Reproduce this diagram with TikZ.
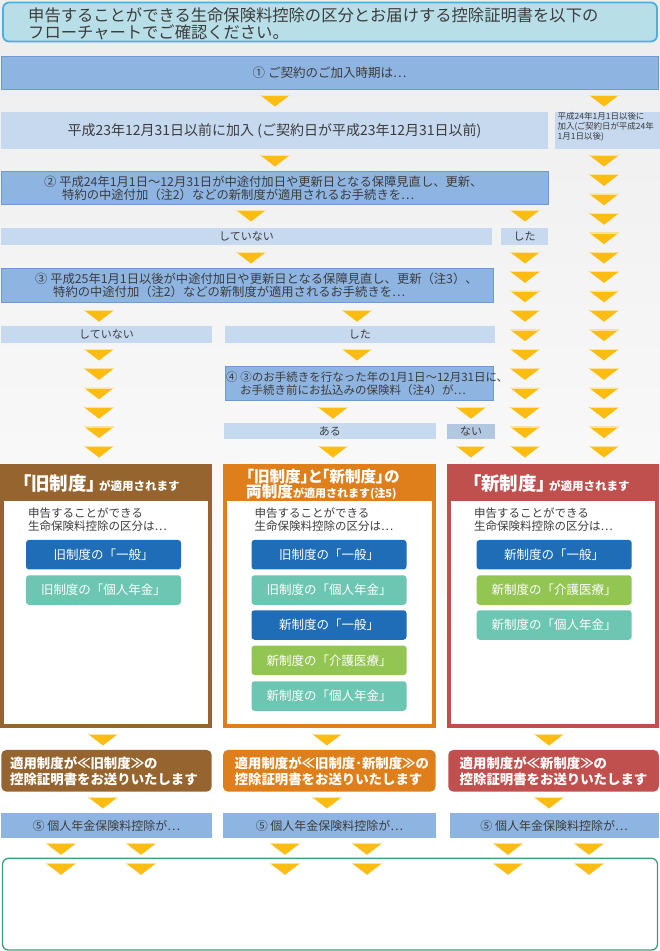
\documentclass[tikz,border=0pt]{standalone}
\usepackage{fontspec}
\setmainfont{Noto Sans CJK JP}
\newfontfamily\cjkp{Noto Sans CJK JP}[RawFeature=+palt]

\definecolor{txtgray}{HTML}{3C3C3C}
\definecolor{lightblue}{HTML}{C6D9EF}
\definecolor{midblue}{HTML}{8EB4E1}
\definecolor{midbluedraw}{HTML}{6F9AD0}
\definecolor{noblue}{HTML}{B3C7E1}
\definecolor{headfill}{HTML}{B8DEE8}
\definecolor{headdraw}{HTML}{4AB0E2}
\definecolor{arrowyel}{HTML}{FCBC12}
\definecolor{arrowlite}{HTML}{FFE29A}
\definecolor{oldbrown}{HTML}{96652F}
\definecolor{bothorange}{HTML}{DF7F1B}
\definecolor{newred}{HTML}{C0504E}
\definecolor{ippanblue}{HTML}{1E6DB6}
\definecolor{nenkinteal}{HTML}{6DC6B1}
\definecolor{kaigogreen}{HTML}{93C553}
\definecolor{endgreen}{HTML}{3E9D7F}

\begin{document}
\begin{tikzpicture}[x=1pt,y=-1pt,
  every node/.style={inner sep=0pt,text=txtgray},
  lbox/.style={fill=lightblue},
  mbox/.style={fill=midblue,draw=midbluedraw,line width=0.7pt},
  qtxt/.style={anchor=west,align=left,font=\fontsize{12.3}{13}\selectfont},
  stxt/.style={font=\fontsize{11}{12}\selectfont},
  colframe/.style={minimum width=#1,minimum height=264},
  inbox/.style={fill=white,minimum width=#1,minimum height=223},
  ttl/.style={anchor=west,text=white,font=\bfseries},
  dtxt/.style={anchor=west,align=left,font=\fontsize{11.5}{12.7}\selectfont},
  btn/.style={rounded corners=3pt,minimum width=155,minimum height=29.5,text=white,font=\fontsize{12.5}{13}\selectfont},
  rbox/.style={rounded corners=5pt,minimum width=#1,minimum height=41.7},
  rtxt/.style={anchor=west,align=left,text=white,font=\fontsize{13.4}{16}\selectfont\bfseries},
  fbox/.style={fill=midblue,minimum width=#1,minimum height=25,font=\fontsize{12}{13}\selectfont},
  darr/.pic={\fill[arrowyel] (-15,0) -- (15,0) -- (0,11.5) -- cycle;
    \draw[arrowlite,line width=0.8pt] (-14.5,0.4) -- (14.5,0.4);}]
  \useasboundingbox (0,0) rectangle (660,951);
  \shade[top color=gray!14,bottom color=white] (0,0) rectangle (660,740);
  \fill[white] (0,740) rectangle (660,951);

  % header
  \node[fill=headfill,draw=headdraw,line width=1.8pt,rounded corners=6pt,minimum width=654,minimum height=39] (head) at (330,22) {};
  \node[anchor=west,align=left,font=\fontsize{16.3}{17.3}\selectfont] (headt) at (28,23.5)
    {申告することができる生命保険料控除の区分とお届けする控除証明書を以下の\\フローチャートでご確認ください。};

  % (1) contract date
  \node[mbox,minimum width=657,minimum height=33,font=\fontsize{12.5}{13}\selectfont] (s1) at (329.5,72.5) {① ご契約のご加入時期は…};
  \node[lbox,minimum width=547,minimum height=37,font=\fontsize{14}{15}\selectfont] (before) at (274.5,130.5)
    {平成23年12月31日以前に加入 (ご契約日が平成23年12月31日以前)};
  \node[lbox,minimum width=105,minimum height=37] (after) at (607.5,130.5) {};
  \node[anchor=west,align=left,font=\cjkp\fontsize{8.5}{10}\selectfont] (aftert) at (557.5,126.5)
    {平成24年1月1日以後に\\加入(ご契約日が平成24年\\1月1日以後)};

  % (2)
  \node[mbox,minimum width=547,minimum height=33] (q2) at (274.5,187.5) {};
  \node[qtxt] (q2t) at (44,188)
    {② 平成24年1月1日～12月31日が中途付加日や更新日となる保障見直し、更新、\\\hspace*{18pt}特約の中途付加（注2）などの新制度が適用されるお手続きを…};
  \node[lbox,minimum width=491,minimum height=17,stxt] (no2) at (246.5,236.5) {していない};
  \node[lbox,minimum width=47,minimum height=17,stxt] (yes2) at (524.5,236.5) {した};

  % (3)
  \node[mbox,minimum width=492,minimum height=34] (q3) at (247,285) {};
  \node[qtxt] (q3t) at (35,285.5)
    {③ 平成25年1月1日以後が中途付加日や更新日となる保障見直し、更新（注3）、\\\hspace*{18pt}特約の中途付加（注2）などの新制度が適用されるお手続きを…};
  \node[lbox,minimum width=211,minimum height=17,stxt] (no3) at (106.5,334.3) {していない};
  \node[lbox,minimum width=269.7,minimum height=17,stxt] (yes3) at (359.9,334.3) {した};

  % (4)
  \node[mbox,minimum width=268,minimum height=34] (q4) at (359,383.8) {};
  \node[qtxt,font=\fontsize{11.5}{13}\selectfont] (q4t) at (226,384)
    {④ ③のお手続きを行なった年の1月1日～12月31日に、\\\hspace*{14pt}お手続き前にお払込みの保険料（注4）が…};
  \node[lbox,minimum width=211.7,minimum height=16,stxt] (yes4) at (329.9,431.3) {ある};
  \node[fill=noblue,minimum width=47.4,minimum height=15.5,stxt] (no4) at (471,431.5) {ない};

  % arrows
  \pic at (275,95) {darr};
  \pic at (604,95) {darr};
  \pic at (275,155) {darr};
  \pic at (251,210) {darr};
  \pic at (525,210) {darr};
  \pic at (251,252) {darr};
  \foreach \k in {0,...,15} \pic at (604,{155+19.4*\k}) {darr};
  \foreach \k in {5,...,15} \pic at (525,{155+19.4*\k}) {darr};
  \foreach \k in {8,10,11,12,13,14,15} \pic at (99,{155+19.4*\k}) {darr};
  \foreach \k in {8,10} \pic at (357,{155+19.4*\k}) {darr};
  \foreach \k in {13,15} {
    \pic at (333,{155+19.4*\k}) {darr};
    \pic at (471,{155+19.4*\k}) {darr};
  }

  % old system
  \node[fill=oldbrown,colframe=212] (old) at (106,596) {};
  \node[inbox=204] (oldin) at (106,612.5) {};
  \node[ttl] (oldt) at (22,483) {{\cjkp\fontsize{18.5}{19}\selectfont 「旧制度」}\hspace{3pt}{\fontsize{11.5}{12}\selectfont が適用されます}};
  \node[dtxt] (oldd) at (28,519.7) {申告することができる\\生命保険料控除の区分は…};
  \node[btn,fill=ippanblue] (old1) at (103.5,554.7) {旧制度の「一般」};
  \node[btn,fill=nenkinteal] (old2) at (103.5,590) {旧制度の「個人年金」};

  % both systems
  \node[fill=bothorange,colframe=213] (both) at (329.5,596) {};
  \node[inbox=205] (bothin) at (329.5,612.5) {};
  \node[ttl] (botht) at (246,476.3) {\cjkp\fontsize{15.6}{16}\selectfont 「旧制度」と「新制度」の};
  \node[ttl] (botht2) at (246,492.3) {{\cjkp\fontsize{15.6}{16}\selectfont 両制度}{\fontsize{11}{12}\selectfont が適用されます(注5)}};
  \node[dtxt] (bothd) at (254.5,519.7) {申告することができる\\生命保険料控除の区分は…};
  \node[btn,fill=ippanblue] (both1) at (329,554.7) {旧制度の「一般」};
  \node[btn,fill=nenkinteal] (both2) at (329,590) {旧制度の「個人年金」};
  \node[btn,fill=ippanblue] (both3) at (329,625) {新制度の「一般」};
  \node[btn,fill=kaigogreen] (both4) at (329,660.3) {新制度の「介護医療」};
  \node[btn,fill=nenkinteal] (both5) at (329,696) {新制度の「個人年金」};

  % new system
  \node[fill=newred,colframe=211.5] (new) at (552.75,596) {};
  \node[inbox=203.5] (newin) at (552.75,612.5) {};
  \node[ttl] (newt) at (472,483) {{\cjkp\fontsize{18.5}{19}\selectfont 「新制度」}\hspace{3pt}{\fontsize{11.5}{12}\selectfont が適用されます}};
  \node[dtxt] (newd) at (474,519.7) {申告することができる\\生命保険料控除の区分は…};
  \node[btn,fill=ippanblue] (new1) at (554.2,554.7) {新制度の「一般」};
  \node[btn,fill=kaigogreen] (new2) at (554.2,590) {新制度の「介護医療」};
  \node[btn,fill=nenkinteal] (new3) at (554.2,625) {新制度の「個人年金」};

  % certificates
  \foreach \x in {103,327,549} {
    \pic at (\x,734) {darr};
    \pic at (\x,797) {darr};
  }
  \node[rbox=210.4,fill=oldbrown] (oldr) at (106.5,770.8) {};
  \node[rtxt] (oldrt) at (10,771.3) {適用制度が≪旧制度≫の\\控除証明書をお送りいたします};
  \node[rbox=212.6,fill=bothorange] (bothr) at (329.3,770.8) {};
  \node[rtxt] (bothrt) at (234.5,771.3) {適用制度が≪旧制度･新制度≫の\\控除証明書をお送りいたします};
  \node[rbox=210.5,fill=newred] (newr) at (553.5,770.8) {};
  \node[rtxt] (newrt) at (459.5,771.3) {適用制度が≪新制度≫の\\控除証明書をお送りいたします};

  % (5)
  \node[fbox=210.7] (oldf) at (106.4,825.8) {⑤ 個人年金保険料控除が…};
  \node[fbox=212.1] (bothf) at (329.5,825.8) {⑤ 個人年金保険料控除が…};
  \node[fbox=209.2] (newf) at (554.1,825.8) {⑤ 個人年金保険料控除が…};
  \foreach \x in {61,141,285,367,508,589} \pic at (\x,843.3) {darr};
  \node[draw=endgreen,line width=1.3pt,fill=white,rounded corners=6pt,minimum width=655,minimum height=91.7] (endbox) at (330,904.2) {};
  \foreach \x in {61,141,285,367,508,589} \pic at (\x,863.3) {darr};
\end{tikzpicture}
\end{document}
